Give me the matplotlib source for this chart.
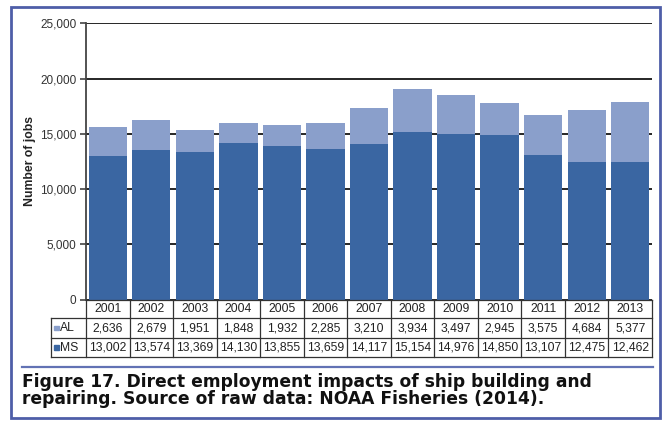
import matplotlib
matplotlib.use("Agg")
import matplotlib.pyplot as plt
from matplotlib.patches import Rectangle
from matplotlib.lines import Line2D
from matplotlib.ticker import FuncFormatter

years = ["2001", "2002", "2003", "2004", "2005", "2006", "2007",
         "2008", "2009", "2010", "2011", "2012", "2013"]
al_jobs = [2636, 2679, 1951, 1848, 1932, 2285, 3210,
           3934, 3497, 2945, 3575, 4684, 5377]
ms_jobs = [13002, 13574, 13369, 14130, 13855, 13659, 14117,
           15154, 14976, 14850, 13107, 12475, 12462]
series_names = ["AL", "MS"]
y_ticks = [0, 5000, 10000, 15000, 20000, 25000]
caption_lines = [
    "Figure 17. Direct employment impacts of ship building and",
    "repairing. Source of raw data: NOAA Fisheries (2014).",
]

W, H = 663, 424
DPI = 100
AL_COLOR = "#8a9fcb"
MS_COLOR = "#3a66a2"
FRAME_BLUE = "#4e5ea8"
GRID = "#262626"

plt.rcParams["font.family"] = ["Liberation Sans", "DejaVu Sans"]

fig = plt.figure(figsize=(W / DPI, H / DPI), dpi=DPI)


def fx(px):
    return px / W


def fy(py):
    return 1 - py / H


# plot area in pixel coordinates
left, right, top, bottom = 86, 652, 23.3, 299.5
ax = fig.add_axes([fx(left), fy(bottom), fx(right - left), (bottom - top) / H])

x = range(len(years))
ax.bar(x, ms_jobs, width=0.88, color=MS_COLOR, zorder=3, linewidth=0)
ax.bar(x, al_jobs, bottom=ms_jobs, width=0.88, color=AL_COLOR, zorder=3, linewidth=0)

ax.set_xlim(-0.5, len(years) - 0.5)
ax.set_ylim(0, 25000)
ax.set_yticks(y_ticks)
ax.yaxis.set_major_formatter(FuncFormatter(lambda v, p: f"{int(v):,}"))
ax.set_xticks([])
ax.grid(axis="y", color=GRID, linewidth=1.4, zorder=0)
ax.set_axisbelow(True)
for s in ["top", "right", "bottom"]:
    ax.spines[s].set_visible(False)
ax.spines["left"].set_color("#444444")
ax.spines["left"].set_linewidth(1.3)
ax.tick_params(axis="y", length=4, width=1.2, color="#444444",
               labelsize=8.5, labelcolor="#333333", pad=3)
ax.set_ylabel("Number of jobs", fontsize=8.8, fontweight="bold",
              color="#222222", labelpad=3)

# data table beneath the bars
rows_y = [299.5, 318, 337.5, 357]
col_w = (right - left) / len(years)
label_left = 51
line_kw = dict(color="#333333", linewidth=0.9, transform=fig.transFigure)


def hline(y, x0, x1):
    fig.add_artist(Line2D([fx(x0), fx(x1)], [fy(y), fy(y)], **line_kw))


def vline(x_, y0, y1):
    fig.add_artist(Line2D([fx(x_), fx(x_)], [fy(y0), fy(y1)], **line_kw))


hline(rows_y[0], left, right)
for yy in rows_y[1:]:
    hline(yy, label_left, right)
vline(label_left, rows_y[1], rows_y[3])
for i in range(len(years) + 1):
    vline(left + i * col_w, rows_y[0], rows_y[3])

txt_kw = dict(fontsize=8.7, color="#222222", ha="center", va="center",
              transform=fig.transFigure)
for i, yr in enumerate(years):
    cx = left + (i + 0.5) * col_w
    fig.text(fx(cx), fy((rows_y[0] + rows_y[1]) / 2 + 0.5), yr, **txt_kw)
    fig.text(fx(cx), fy((rows_y[1] + rows_y[2]) / 2 + 0.5), f"{al_jobs[i]:,}", **txt_kw)
    fig.text(fx(cx), fy((rows_y[2] + rows_y[3]) / 2 + 0.5), f"{ms_jobs[i]:,}", **txt_kw)

for name, color, (r0, r1) in zip(series_names, [AL_COLOR, MS_COLOR],
                                 [(rows_y[1], rows_y[2]), (rows_y[2], rows_y[3])]):
    cy = (r0 + r1) / 2
    fig.add_artist(Rectangle((fx(54), fy(cy + 2.5)), fx(4.5), 4.5 / H,
                             color=color, transform=fig.transFigure))
    fig.text(fx(60), fy(cy + 0.5), name, fontsize=8.7, color="#222222",
             ha="left", va="center", transform=fig.transFigure)

# separator and caption (baseline of the last line)
fig.add_artist(Line2D([fx(22), fx(653)], [fy(367), fy(367)], color="#6272b4",
                      linewidth=1.6, transform=fig.transFigure))
fig.text(fx(22), fy(404), "\n".join(caption_lines), fontsize=12.3,
         fontweight="bold", family=["DejaVu Sans"], color="#111111",
         ha="left", va="baseline", linespacing=0.9,
         transform=fig.transFigure)

# outer frame
fig.add_artist(Rectangle((fx(11), fy(418)), fx(660 - 11), (418 - 7) / H,
                         fill=False, edgecolor=FRAME_BLUE, linewidth=2,
                         transform=fig.transFigure))

fig.savefig("out.png", dpi=DPI)
